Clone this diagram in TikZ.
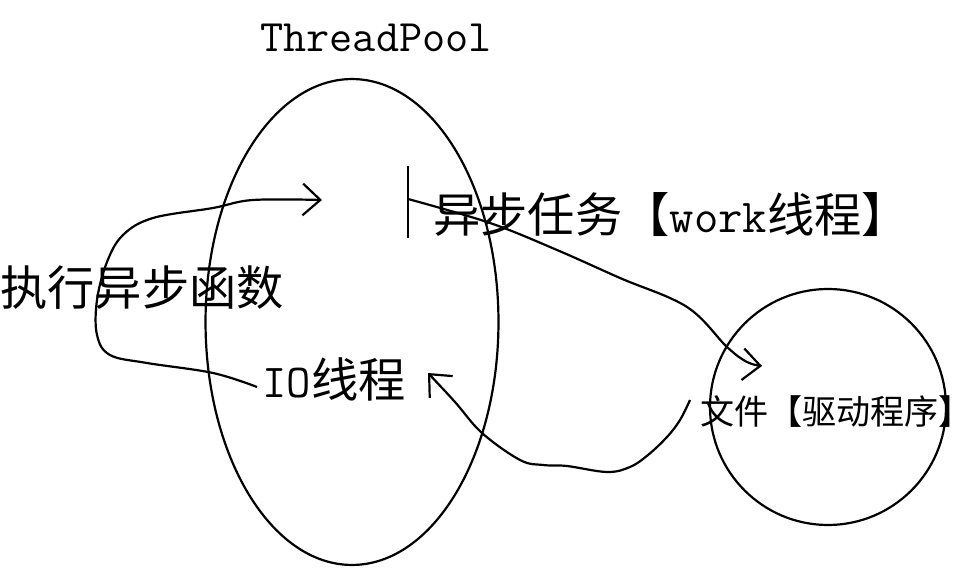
\documentclass[tikz,border=0pt]{standalone}
\usepackage{fontspec}
\setmainfont{Noto Sans CJK SC}
\usepackage{tikz}
\usetikzlibrary{calc, shapes, arrows, arrows.meta}
\tikzstyle{bigtext} = [inner sep=0pt, font=\fontsize{26.9}{30}\selectfont]
\tikzstyle{smalltext} = [inner sep=0pt, font=\fontsize{19.4}{23}\selectfont]
\tikzstyle{title} = [inner sep=0pt, font=\fontsize{25.6}{30}\selectfont\ttfamily]
\tikzstyle{pool} = [draw, ellipse, line width=1.25pt, inner sep=0pt,
minimum width=5.86cm, minimum height=9.72cm]
\tikzstyle{driver} = [draw, circle, line width=1.25pt, inner sep=0pt,
minimum size=4.72cm]
\tikzstyle{line} = [draw, line width=1.25pt, -{Straight Barb[length=10pt, width=18pt]}]

\begin{document}
\begin{tikzpicture}[x=0.02cm, y=-0.02cm]
	\useasboundingbox (0,0) rectangle (980,570);
	% Place nodes
	\node [pool] (threadpool) at (352,322) {};
	\node [driver] (file) at (828,407) {};
	\node [title] (poolname) at (376,38) {ThreadPool};
	\node [bigtext, anchor=west] (call) at (0,288) {执行异步函数};
	\node [bigtext, anchor=west] (io) at (262,379) {{\ttfamily IO}线程};
	\node [bigtext, anchor=west] (task) at (433,215) {异步任务【{\ttfamily work}线程】};
	\node [smalltext, anchor=west] (filename) at (700,412) {文件【驱动程序】};
	%
	\coordinate (bartop) at (408,166);
	\coordinate (barbot) at (408,238);
	\coordinate (barmid) at (408,199);
	\coordinate (ioout) at (257,387);
	\coordinate (callend) at (322,200);
	\coordinate (fileend) at (762,366);
	\coordinate (fileout) at (690,400);
	\coordinate (ioend) at (428,373);
	%
	\draw [line width=1.25pt] (bartop) -- (barbot);
	\path [line] plot [smooth, tension=0.6] coordinates {(ioout) (213,373) (147,363)
		(110,355) (97,335) (97,300) (107,262) (123,235) (153,218) (213,208) (253,200) (callend)};
	\path [line] plot [smooth, tension=0.6] coordinates {(barmid) (490,223) (557,250)
		(620,278) (687,307) (727,347) (747,362) (fileend)};
	\path [line] plot [smooth, tension=0.6] coordinates {(fileout) (680,420) (667,437)
		(648,455) (630,467) (607,472) (567,466) (543,465) (520,460) (482,433) (455,402) (ioend)};
\end{tikzpicture}
\end{document}
